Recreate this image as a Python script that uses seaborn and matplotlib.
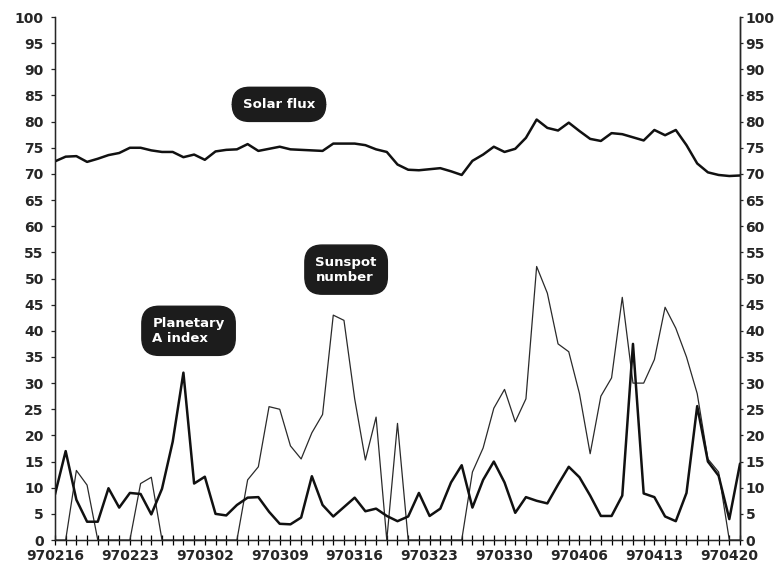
import numpy as np
import pandas as pd
import seaborn as sns
import matplotlib
matplotlib.use("Agg")
import matplotlib.pyplot as plt

# daily values, 970216 .. 970421
solar_flux = [72.4, 73.3, 73.4, 72.3, 72.9, 73.6, 74.0, 75.0, 75.0, 74.5,
              74.2, 74.2, 73.2, 73.7, 72.7, 74.3, 74.6, 74.7, 75.7, 74.4,
              74.8, 75.2, 74.7, 74.6, 74.5, 74.4, 75.8, 75.8, 75.8, 75.5,
              74.7, 74.2, 71.8, 70.8, 70.7, 70.9, 71.1, 70.5, 69.8, 72.5,
              73.7, 75.2, 74.2, 74.8, 76.9, 80.4, 78.8, 78.3, 79.8, 78.2,
              76.7, 76.3, 77.8, 77.6, 77.0, 76.4, 78.4, 77.4, 78.4, 75.5,
              72.0, 70.3, 69.8, 69.6, 69.7]

planetary_a = [8.7, 17.0, 7.7, 3.5, 3.5, 9.9, 6.2, 9.0, 8.8, 4.9,
               9.8, 18.8, 32.0, 10.8, 12.1, 5.0, 4.7, 6.7, 8.1, 8.2,
               5.4, 3.1, 3.0, 4.3, 12.2, 6.7, 4.5, 6.3, 8.1, 5.5,
               6.0, 4.6, 3.6, 4.5, 9.0, 4.6, 6.0, 11.0, 14.3, 6.2,
               11.5, 15.0, 11.0, 5.2, 8.2, 7.5, 7.0, 10.6, 14.0, 12.0,
               8.5, 4.6, 4.6, 8.5, 37.5, 8.9, 8.2, 4.5, 3.6, 9.0,
               25.6, 15.0, 12.3, 4.0, 14.6]

sunspot = [0, 0, 13.3, 10.5, 0, 0, 0, 0, 10.8, 12.0,
           0, 0, 0, 0, 0, 0, 0, 0, 11.5, 14.0,
           25.5, 25.0, 18.0, 15.5, 20.5, 24.0, 43.0, 42.0, 27.0, 15.3,
           23.5, 0, 22.3, 0, 0, 0, 0, 0, 0, 13.0,
           17.6, 25.2, 28.8, 22.6, 27.0, 52.3, 47.2, 37.5, 36.0, 28.0,
           16.5, 27.5, 31.0, 46.4, 30.0, 30.0, 34.5, 44.5, 40.5, 35.0,
           28.0, 15.5, 13.0, 0, 0]

tick_labels = ["970216", "970223", "970302", "970309", "970316",
               "970323", "970330", "970406", "970413", "970420"]

sns.set_style("ticks")
plt.rcParams['font.family'] = ['DejaVu Sans']

df = pd.DataFrame({
    'day': np.arange(len(solar_flux)),
    'solar_flux': solar_flux,
    'planetary_a': planetary_a,
    'sunspot': sunspot,
})

fig = plt.figure(figsize=(7.83, 5.77), dpi=100)
fig.patch.set_facecolor('white')
ax = fig.add_axes([0.0702, 0.0641, 0.8749, 0.9064])

sns.lineplot(data=df, x='day', y='sunspot', ax=ax, color='#2a2a2a', linewidth=0.9)
sns.lineplot(data=df, x='day', y='planetary_a', ax=ax, color='#111111', linewidth=1.8)
sns.lineplot(data=df, x='day', y='solar_flux', ax=ax, color='#111111', linewidth=1.8)

ax.set_xlim(0, len(solar_flux) - 1)
ax.set_ylim(0, 100)
ax.set_xlabel("")
ax.set_ylabel("")

# x axis: a tick every day, a label every week
ax.set_xticks(np.arange(0, 64, 7))
ax.set_xticklabels(tick_labels)
ax.set_xticks(np.arange(0, len(solar_flux)), minor=True)
ax.tick_params(axis='x', which='both', direction='inout', length=7,
               width=0.9, color='black', pad=3)
ax.tick_params(axis='x', labelsize=10)

yt = list(range(0, 101, 5))
ax.set_yticks(yt)
ax.tick_params(axis='y', direction='out', length=3, width=0.9, pad=5, labelsize=10)

for lab in ax.get_xticklabels() + ax.get_yticklabels():
    lab.set_fontweight('bold')

ax.spines['top'].set_visible(False)
for s in ['left', 'bottom', 'right']:
    ax.spines[s].set_linewidth(1.0)
    ax.spines[s].set_color('black')

ax2 = ax.twinx()
ax2.set_ylim(0, 100)
ax2.set_yticks(yt)
ax2.tick_params(axis='y', direction='out', length=2, width=0.9, pad=2, labelsize=10)
for lab in ax2.get_yticklabels():
    lab.set_fontweight('bold')
ax2.spines['top'].set_visible(False)
ax2.spines['right'].set_linewidth(1.0)

# dark pill-shaped labels
box = dict(boxstyle='round,pad=0.8,rounding_size=1.3', fc='#1c1c1c', ec='#1c1c1c')
ax.text(0.327, 0.833, "Solar flux", transform=ax.transAxes, ha='center', va='center',
        color='white', fontsize=9.5, fontweight='bold', bbox=box)
ax.text(0.425, 0.517, "Sunspot\nnumber", transform=ax.transAxes, ha='center', va='center',
        color='white', fontsize=9.5, fontweight='bold', bbox=box, multialignment='left')
ax.text(0.195, 0.400, "Planetary\nA index", transform=ax.transAxes, ha='center', va='center',
        color='white', fontsize=9.5, fontweight='bold', bbox=box, multialignment='left')

fig.savefig('out.png', dpi=100)
